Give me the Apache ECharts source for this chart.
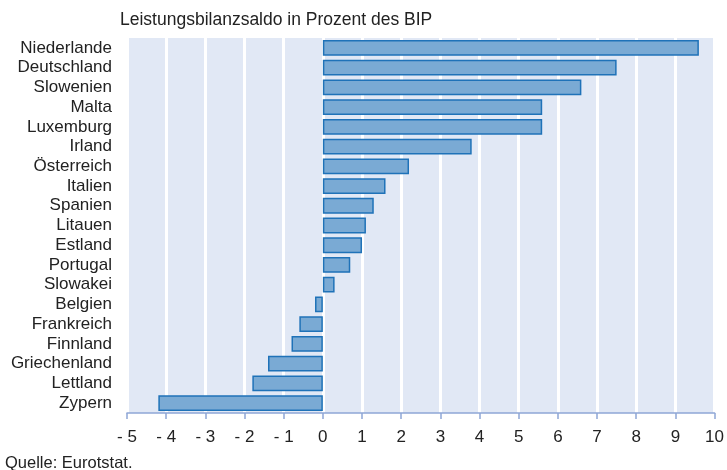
<!DOCTYPE html>
<html>
<head>
<meta charset="utf-8">
<script src="https://cdn.jsdelivr.net/npm/echarts@6/dist/echarts.min.js"></script>
<style>
html, body { margin: 0; padding: 0; background: #fff; }
#chart { width: 727px; height: 470px; }
</style>
</head>
<body>
<div id="chart"></div>
<script>
var countries = ['Niederlande', 'Deutschland', 'Slowenien', 'Malta', 'Luxemburg', 'Irland', 'Österreich',
    'Italien', 'Spanien', 'Litauen', 'Estland', 'Portugal', 'Slowakei', 'Belgien', 'Frankreich',
    'Finnland', 'Griechenland', 'Lettland', 'Zypern'];
var saldo = [9.6, 7.5, 6.6, 5.6, 5.6, 3.8, 2.2, 1.6, 1.3, 1.1, 1.0, 0.7, 0.3, -0.2, -0.6, -0.8, -1.4, -1.8, -4.2];

var chart = echarts.init(document.getElementById('chart'));
var font = 'Arial, "Liberation Sans", sans-serif';

chart.setOption({
    animation: false,
    textStyle: { fontFamily: font },
    graphic: [
        { type: 'text', left: 120, top: 11, style: { text: 'Leistungsbilanzsaldo in Prozent des BIP', font: '17.5px ' + font, fill: '#222' } },
        { type: 'text', left: 5, top: 455, style: { text: 'Quelle: Eurotstat.', font: '16.5px ' + font, fill: '#222' } }
    ],
    grid: {
        left: 127, right: 12, top: 38, bottom: 57,
        show: true, backgroundColor: '#e1e8f5', borderWidth: 0
    },
    xAxis: {
        type: 'value', min: -5, max: 10, interval: 1,
        axisLine: { show: true, lineStyle: { color: '#8ea6d6', width: 1.5 } },
        axisTick: { show: true, length: 6, lineStyle: { color: '#8ea6d6', width: 1.5 } },
        splitLine: { show: true, lineStyle: { color: '#ffffff', width: 3 } },
        axisLabel: {
            color: '#222', fontSize: 17, margin: 16,
            formatter: function (v) { return v < 0 ? '- ' + Math.abs(v) : String(v); }
        }
    },
    yAxis: {
        type: 'category', data: countries, inverse: true,
        axisLine: { show: false }, axisTick: { show: false },
        axisLabel: { color: '#222', fontSize: 17, margin: 15, interval: 0 }
    },
    series: [{
        type: 'bar', data: saldo, barCategoryGap: '20%',
        itemStyle: { color: '#7aaad4', borderColor: '#1f72b8', borderWidth: 1.5 }
    }]
});
</script>
</body>
</html>
